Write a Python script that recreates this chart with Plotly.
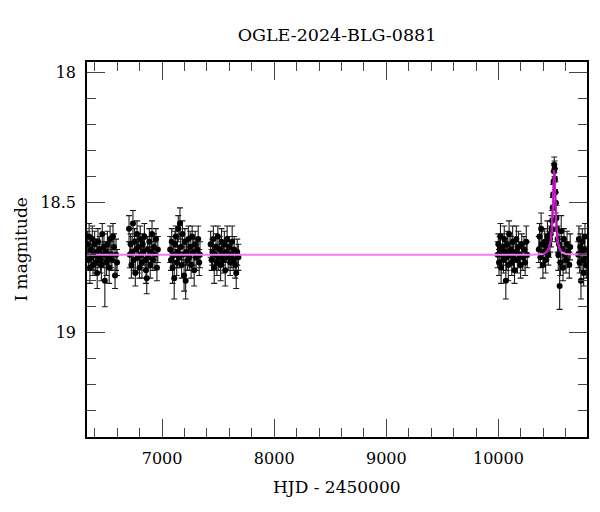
import plotly.graph_objects as go

# ---- photometry (HJD-2450000, I mag, error) ----
hjd_s1 = [6336, 6342, 6349, 6356, 6363, 6370, 6377, 6384, 6391, 6398, 6406, 6413, 6421, 6428, 6436,
          6443, 6451, 6458, 6466, 6473, 6481, 6489, 6496, 6504, 6512, 6520, 6528, 6536, 6545, 6553,
          6562, 6571, 6580, 6589, 6598]
mag_s1 = [18.66, 18.72, 18.63, 18.75, 18.68, 18.71, 18.64, 18.74, 18.70, 18.66, 18.73, 18.69, 18.77, 18.65, 18.71,
          18.68, 18.72, 18.74, 18.62, 18.70, 18.67, 18.80, 18.69, 18.73, 18.66, 18.71, 18.75, 18.64, 18.70, 18.72,
          18.63, 18.67, 18.78, 18.70, 18.73]
err_s1 = [0.05, 0.04, 0.05, 0.06, 0.04, 0.05, 0.05, 0.04, 0.06, 0.05, 0.04, 0.05, 0.06, 0.05, 0.04,
          0.05, 0.05, 0.06, 0.04, 0.05, 0.05, 0.10, 0.04, 0.05, 0.05, 0.04, 0.06, 0.05, 0.05, 0.04,
          0.05, 0.05, 0.05, 0.06, 0.05]

hjd_s2 = [6705, 6712, 6719, 6726, 6733, 6740, 6747, 6754, 6761, 6768, 6776, 6783, 6790, 6798, 6805,
          6812, 6820, 6827, 6834, 6842, 6849, 6856, 6863, 6871, 6878, 6886, 6894, 6902, 6910, 6918,
          6927, 6936, 6945, 6954, 6962]
mag_s2 = [18.60, 18.70, 18.66, 18.74, 18.69, 18.58, 18.72, 18.65, 18.77, 18.68, 18.62, 18.71, 18.67, 18.75, 18.64,
          18.70, 18.73, 18.66, 18.69, 18.63, 18.72, 18.76, 18.79, 18.68, 18.71, 18.65, 18.74, 18.69, 18.62, 18.72,
          18.67, 18.70, 18.64, 18.75, 18.68]
err_s2 = [0.05, 0.05, 0.04, 0.05, 0.06, 0.05, 0.04, 0.05, 0.05, 0.04, 0.05, 0.06, 0.05, 0.04, 0.05,
          0.05, 0.06, 0.04, 0.05, 0.05, 0.04, 0.05, 0.06, 0.05, 0.04, 0.05, 0.05, 0.06, 0.05, 0.04,
          0.05, 0.05, 0.04, 0.05, 0.05]

hjd_s3 = [7072, 7079, 7086, 7093, 7100, 7108, 7115, 7122, 7130, 7137, 7144, 7152, 7159, 7166, 7174,
          7181, 7188, 7196, 7203, 7210, 7218, 7226, 7234, 7242, 7250, 7259, 7268, 7277, 7286, 7295,
          7304, 7313, 7322, 7331, 7338]
mag_s3 = [18.68, 18.72, 18.65, 18.75, 18.70, 18.79, 18.66, 18.63, 18.73, 18.69, 18.60, 18.71, 18.58, 18.67, 18.74,
          18.62, 18.70, 18.78, 18.65, 18.80, 18.69, 18.72, 18.64, 18.71, 18.67, 18.74, 18.63, 18.69, 18.76, 18.66,
          18.71, 18.68, 18.64, 18.73, 18.70]
err_s3 = [0.05, 0.04, 0.05, 0.06, 0.05, 0.08, 0.05, 0.04, 0.05, 0.06, 0.05, 0.04, 0.06, 0.05, 0.05,
          0.05, 0.04, 0.06, 0.05, 0.07, 0.05, 0.04, 0.05, 0.05, 0.06, 0.05, 0.04, 0.05, 0.06, 0.05,
          0.05, 0.04, 0.05, 0.05, 0.05]

hjd_s4 = [7433, 7441, 7449, 7457, 7465, 7473, 7481, 7489, 7497, 7505, 7513, 7522, 7530, 7538, 7547,
          7555, 7563, 7572, 7580, 7589, 7598, 7607, 7616, 7625, 7634, 7643, 7652, 7661, 7670, 7680]
mag_s4 = [18.66, 18.72, 18.69, 18.64, 18.75, 18.70, 18.67, 18.73, 18.63, 18.71, 18.68, 18.74, 18.65, 18.70, 18.72,
          18.66, 18.76, 18.69, 18.64, 18.71, 18.67, 18.73, 18.70, 18.65, 18.72, 18.68, 18.74, 18.77, 18.69, 18.71]
err_s4 = [0.05, 0.04, 0.05, 0.05, 0.06, 0.04, 0.05, 0.05, 0.04, 0.05, 0.05, 0.06, 0.05, 0.04, 0.05,
          0.05, 0.06, 0.04, 0.05, 0.05, 0.04, 0.05, 0.05, 0.06, 0.04, 0.05, 0.05, 0.06, 0.05, 0.05]

hjd_s5 = [9993, 9999, 10005, 10011, 10018, 10024, 10031, 10038, 10045, 10052, 10059, 10066, 10073, 10080, 10088,
          10095, 10103, 10111, 10119, 10127, 10135, 10143, 10151, 10160, 10169, 10178, 10188, 10198, 10208, 10218,
          10228, 10238, 10248, 10256]
mag_s5 = [18.70, 18.66, 18.73, 18.68, 18.63, 18.75, 18.70, 18.67, 18.72, 18.64, 18.69, 18.80, 18.71, 18.66, 18.74,
          18.62, 18.70, 18.68, 18.73, 18.65, 18.71, 18.76, 18.69, 18.64, 18.72, 18.67, 18.70, 18.74, 18.66, 18.71,
          18.68, 18.73, 18.65, 18.70]
err_s5 = [0.05, 0.04, 0.05, 0.05, 0.05, 0.06, 0.04, 0.05, 0.05, 0.05, 0.04, 0.07, 0.05, 0.05, 0.06,
          0.05, 0.04, 0.05, 0.05, 0.06, 0.05, 0.05, 0.04, 0.05, 0.05, 0.06, 0.05, 0.05, 0.04, 0.05,
          0.05, 0.05, 0.06, 0.05]

hjd_s6 = [10360, 10367, 10374, 10381, 10389, 10397, 10405, 10413, 10421, 10429, 10437, 10445, 10453, 10460, 10467,
          10473, 10479, 10484, 10488, 10492, 10495, 10498, 10501, 10504, 10508, 10512, 10517, 10522, 10528, 10534,
          10540, 10546, 10553, 10560, 10568, 10576, 10585, 10594, 10603, 10612, 10622, 10632, 10640]
mag_s6 = [18.68, 18.63, 18.71, 18.60, 18.66, 18.74, 18.69, 18.65, 18.72, 18.67, 18.63, 18.70, 18.66, 18.64, 18.62,
          18.60, 18.57, 18.52, 18.47, 18.42, 18.38, 18.355, 18.37, 18.41, 18.46, 18.50, 18.56, 18.60, 18.64, 18.70,
          18.66, 18.82, 18.73, 18.61, 18.68, 18.75, 18.64, 18.70, 18.72, 18.66, 18.69, 18.74, 18.67]
err_s6 = [0.05, 0.05, 0.04, 0.06, 0.05, 0.05, 0.04, 0.05, 0.05, 0.05, 0.06, 0.04, 0.05, 0.05, 0.05,
          0.05, 0.04, 0.04, 0.04, 0.04, 0.03, 0.03, 0.03, 0.04, 0.04, 0.04, 0.05, 0.05, 0.05, 0.06,
          0.05, 0.09, 0.05, 0.06, 0.05, 0.05, 0.04, 0.05, 0.05, 0.05, 0.04, 0.05, 0.05]

hjd_s7 = [10712, 10718, 10724, 10730, 10736, 10742, 10748, 10754, 10760, 10766, 10772, 10778, 10784]
mag_s7 = [18.70, 18.64, 18.73, 18.67, 18.80, 18.69, 18.65, 18.72, 18.77, 18.68, 18.63, 18.71, 18.74]
err_s7 = [0.05, 0.05, 0.04, 0.05, 0.07, 0.05, 0.05, 0.04, 0.05, 0.05, 0.05, 0.04, 0.05]

hjd = hjd_s1 + hjd_s2 + hjd_s3 + hjd_s4 + hjd_s5 + hjd_s6 + hjd_s7
mag = mag_s1 + mag_s2 + mag_s3 + mag_s4 + mag_s5 + mag_s6 + mag_s7
err = err_s1 + err_s2 + err_s3 + err_s4 + err_s5 + err_s6 + err_s7

# ---- model curve ----
model_hjd = [6330, 10300, 10400, 10430, 10450, 10465, 10475, 10482, 10488, 10493, 10497,
             10501, 10506, 10512, 10519, 10529, 10544, 10564, 10600, 10790]
model_mag = [18.70, 18.70, 18.697, 18.69, 18.675, 18.65, 18.61, 18.56, 18.49, 18.42, 18.375,
             18.42, 18.49, 18.56, 18.61, 18.65, 18.675, 18.69, 18.697, 18.70]

title_text = "OGLE-2024-BLG-0881"
x_label = "HJD - 2450000"
y_label = "I magnitude"

FONT = "DejaVu Serif"

fig = go.Figure()
fig.add_trace(go.Scatter(
    x=hjd, y=mag, mode="markers",
    marker=dict(color="black", size=6),
    error_y=dict(type="data", array=err, visible=True, color="#1a1a1a", thickness=1.1, width=3),
    showlegend=False,
))
fig.add_trace(go.Scatter(
    x=model_hjd, y=model_mag, mode="lines",
    line=dict(color="#f27af2", width=2),
    showlegend=False,
))
# peak portion of the same model, drawn in stronger magenta over the points
fig.add_trace(go.Scatter(
    x=model_hjd[2:-2], y=model_mag[2:-2], mode="lines",
    line=dict(color="#cc00cc", width=1.6),
    showlegend=False,
))

axis_common = dict(
    showline=True, linecolor="black", linewidth=1.5, mirror="ticks",
    ticks="inside", tickcolor="#444", tickwidth=1.2, ticklen=18,
    showgrid=False, zeroline=False,
    tickfont=dict(family=FONT, size=16, color="black"),
)

fig.update_xaxes(range=[6330, 10790], tick0=0, dtick=1000, tickformat="d",
                 minor=dict(dtick=200, ticklen=9, ticks="inside", tickcolor="#444", tickwidth=1.2),
                 ticklabelstandoff=6, **axis_common)
fig.update_yaxes(range=[19.40, 17.96], tick0=0, dtick=0.5,
                 minor=dict(dtick=0.1, ticklen=9, ticks="inside", tickcolor="#444", tickwidth=1.2),
                 ticklabelstandoff=6, **axis_common)

fig.update_layout(
    width=600, height=512,
    margin=dict(l=87, r=13, t=62, b=75),
    plot_bgcolor="white", paper_bgcolor="white",
    font=dict(family=FONT, size=16, color="black"),
    title=dict(text=title_text, x=337/600, xanchor="center", y=1-35/512, yanchor="middle",
               font=dict(family=FONT, size=17.5, color="black")),
    annotations=[
        dict(text=x_label, xref="paper", yref="paper", x=0.5, y=-(487-437)/375,
             xanchor="center", yanchor="middle", showarrow=False,
             font=dict(family=FONT, size=17, color="black")),
        dict(text=y_label, xref="paper", yref="paper", x=-(87-20)/500, y=0.5,
             xanchor="center", yanchor="middle", textangle=-90, showarrow=False,
             font=dict(family=FONT, size=17, color="black")),
    ],
)

fig.write_html("out.html", config={"displayModeBar": False},
               post_script="document.body.style.margin='0px';document.body.style.overflow='hidden';")
